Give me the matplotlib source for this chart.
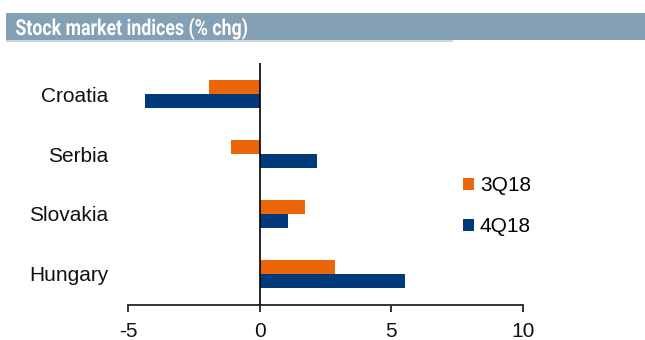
import matplotlib
matplotlib.use("Agg")
import matplotlib.pyplot as plt
import numpy as np
from matplotlib.patches import Rectangle, PathPatch
from matplotlib.textpath import TextPath
from matplotlib.font_manager import FontProperties
from matplotlib.transforms import Affine2D

plt.rcParams['font.family'] = ['Liberation Sans', 'DejaVu Sans']

countries = ["Croatia", "Serbia", "Slovakia", "Hungary"]
q3_18 = [-1.92, -1.07, 1.73, 2.86]
q4_18 = [-4.36, 2.19, 1.08, 5.53]
series_names = ["3Q18", "4Q18"]
x_ticks = [-5, 0, 5, 10]
title = "Stock market indices (% chg)"

ORANGE = "#EB6608"
NAVY = "#003A7A"

W, H = 645, 340
fig = plt.figure(figsize=(W / 100, H / 100), dpi=100)

# title band
fig.patches.append(Rectangle((6 / W, 1 - 40 / H), 1 - 6 / W, 27 / H,
                             transform=fig.transFigure, facecolor="#84A0B4",
                             edgecolor="none", zorder=0))
fig.patches.append(Rectangle((6 / W, 1 - 41.5 / H), 447 / W, 1.5 / H,
                             transform=fig.transFigure, facecolor="#C9D6E0",
                             edgecolor="none", zorder=0))

# condensed bold heading: glyph outlines squeezed horizontally
tp = TextPath((0, 0), title, size=22,
              prop=FontProperties(family=["Roboto", "DejaVu Sans"], weight="bold"))
ext = tp.get_extents()
sx = 231 / ext.width
heading_tf = (Affine2D().translate(-ext.x0, 0).scale(sx, 1)
              .translate(16, H - 35).scale(1 / 100) + fig.dpi_scale_trans)
fig.patches.append(PathPatch(tp, transform=heading_tf, facecolor="white",
                             edgecolor="none", lw=0, zorder=1))

ax = fig.add_axes([128 / W, 35 / H, (522.7 - 128) / W, (305 - 63) / H])

y = np.arange(len(countries))[::-1].astype(float)
h = 0.235
ax.barh(y + h / 2, q3_18, height=h, color=ORANGE, label=series_names[0], zorder=2)
ax.barh(y - h / 2, q4_18, height=h, color=NAVY, label=series_names[1], zorder=2)

ax.set_xlim(-5, 10)
ax.set_ylim(-0.517, 3.517)
ax.set_xticks(x_ticks)
ax.set_xticklabels([str(t) for t in x_ticks])
ax.set_yticks(y)
ax.set_yticklabels(countries)

for s in ["top", "right", "left"]:
    ax.spines[s].set_visible(False)
ax.spines["bottom"].set_color("#333333")
ax.spines["bottom"].set_linewidth(1.4)
ax.axvline(0, color="black", linewidth=1.2, zorder=3)

ax.tick_params(axis="x", direction="out", length=5, width=1.4, color="#333333",
               labelsize=15, pad=7, labelcolor="#111111")
ax.tick_params(axis="y", length=0, labelsize=15, pad=14, labelcolor="#111111")

leg = ax.legend(loc="upper left",
                bbox_to_anchor=((455 - 128) / (522.7 - 128), (305 - 168) / (305 - 63)),
                frameon=False, fontsize=15, handlelength=0.5, handleheight=0.5,
                handletextpad=0.3, labelspacing=1.05, borderaxespad=0)

fig.savefig("out.png", dpi=100)
